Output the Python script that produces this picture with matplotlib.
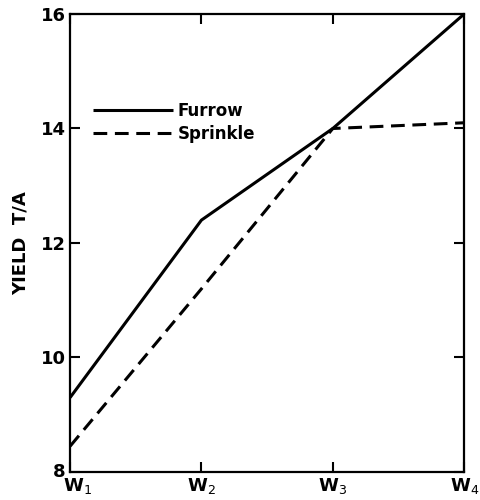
import matplotlib
matplotlib.use("Agg")
import matplotlib.pyplot as plt
import matplotlib.transforms as mtransforms

categories = ["W$_1$", "W$_2$", "W$_3$", "W$_4$"]
furrow = [9.3, 12.4, 14.0, 16.0]
sprinkle = [8.45, 11.2, 14.0, 14.1]
yticks = [8, 10, 12, 14, 16]

plt.rcParams['font.family'] = ['DejaVu Sans']
fig = plt.figure(figsize=(4.8, 5.0), dpi=100)
ax = fig.add_axes([0.146, 0.056, 0.821, 0.916])

x = list(range(len(categories)))
ax.plot(x, furrow, color='black', lw=2.2, solid_capstyle='butt', label='Furrow')
ax.plot(x, sprinkle, color='black', lw=2.2, ls=(0, (4.5, 2.5)), label='Sprinkle')

ax.set_xlim(0, 3)
ax.set_ylim(8, 16)
ax.set_xticks(x)
ax.set_xticklabels(categories, fontsize=13, fontweight='bold')
ax.set_yticks(yticks)
ax.set_yticklabels([str(v) for v in yticks], fontsize=13, fontweight='bold')
ax.tick_params(direction='in', top=True, right=True, length=7, width=1.5, pad=3)
ax.tick_params(axis='x', pad=3)
for s in ax.spines.values():
    s.set_linewidth(1.6)

# nudge the first x label right and the first y label up so they do not collide
first_x = ax.get_xticklabels()[0]
first_x.set_transform(first_x.get_transform() +
                      mtransforms.ScaledTranslation(7 / 100, 0, fig.dpi_scale_trans))
first_y = ax.get_yticklabels()[0]
first_y.set_transform(first_y.get_transform() +
                      mtransforms.ScaledTranslation(0, 2 / 100, fig.dpi_scale_trans))

ax.set_ylabel("YIELD  T/A", fontsize=13, fontweight='bold', labelpad=8)

leg = ax.legend(loc='upper left', bbox_to_anchor=(0.02, 0.84), frameon=False,
                handlelength=4.8, handletextpad=0.3, labelspacing=0.3,
                prop={'size': 12, 'weight': 'bold'})

fig.savefig("out.png", dpi=100)
